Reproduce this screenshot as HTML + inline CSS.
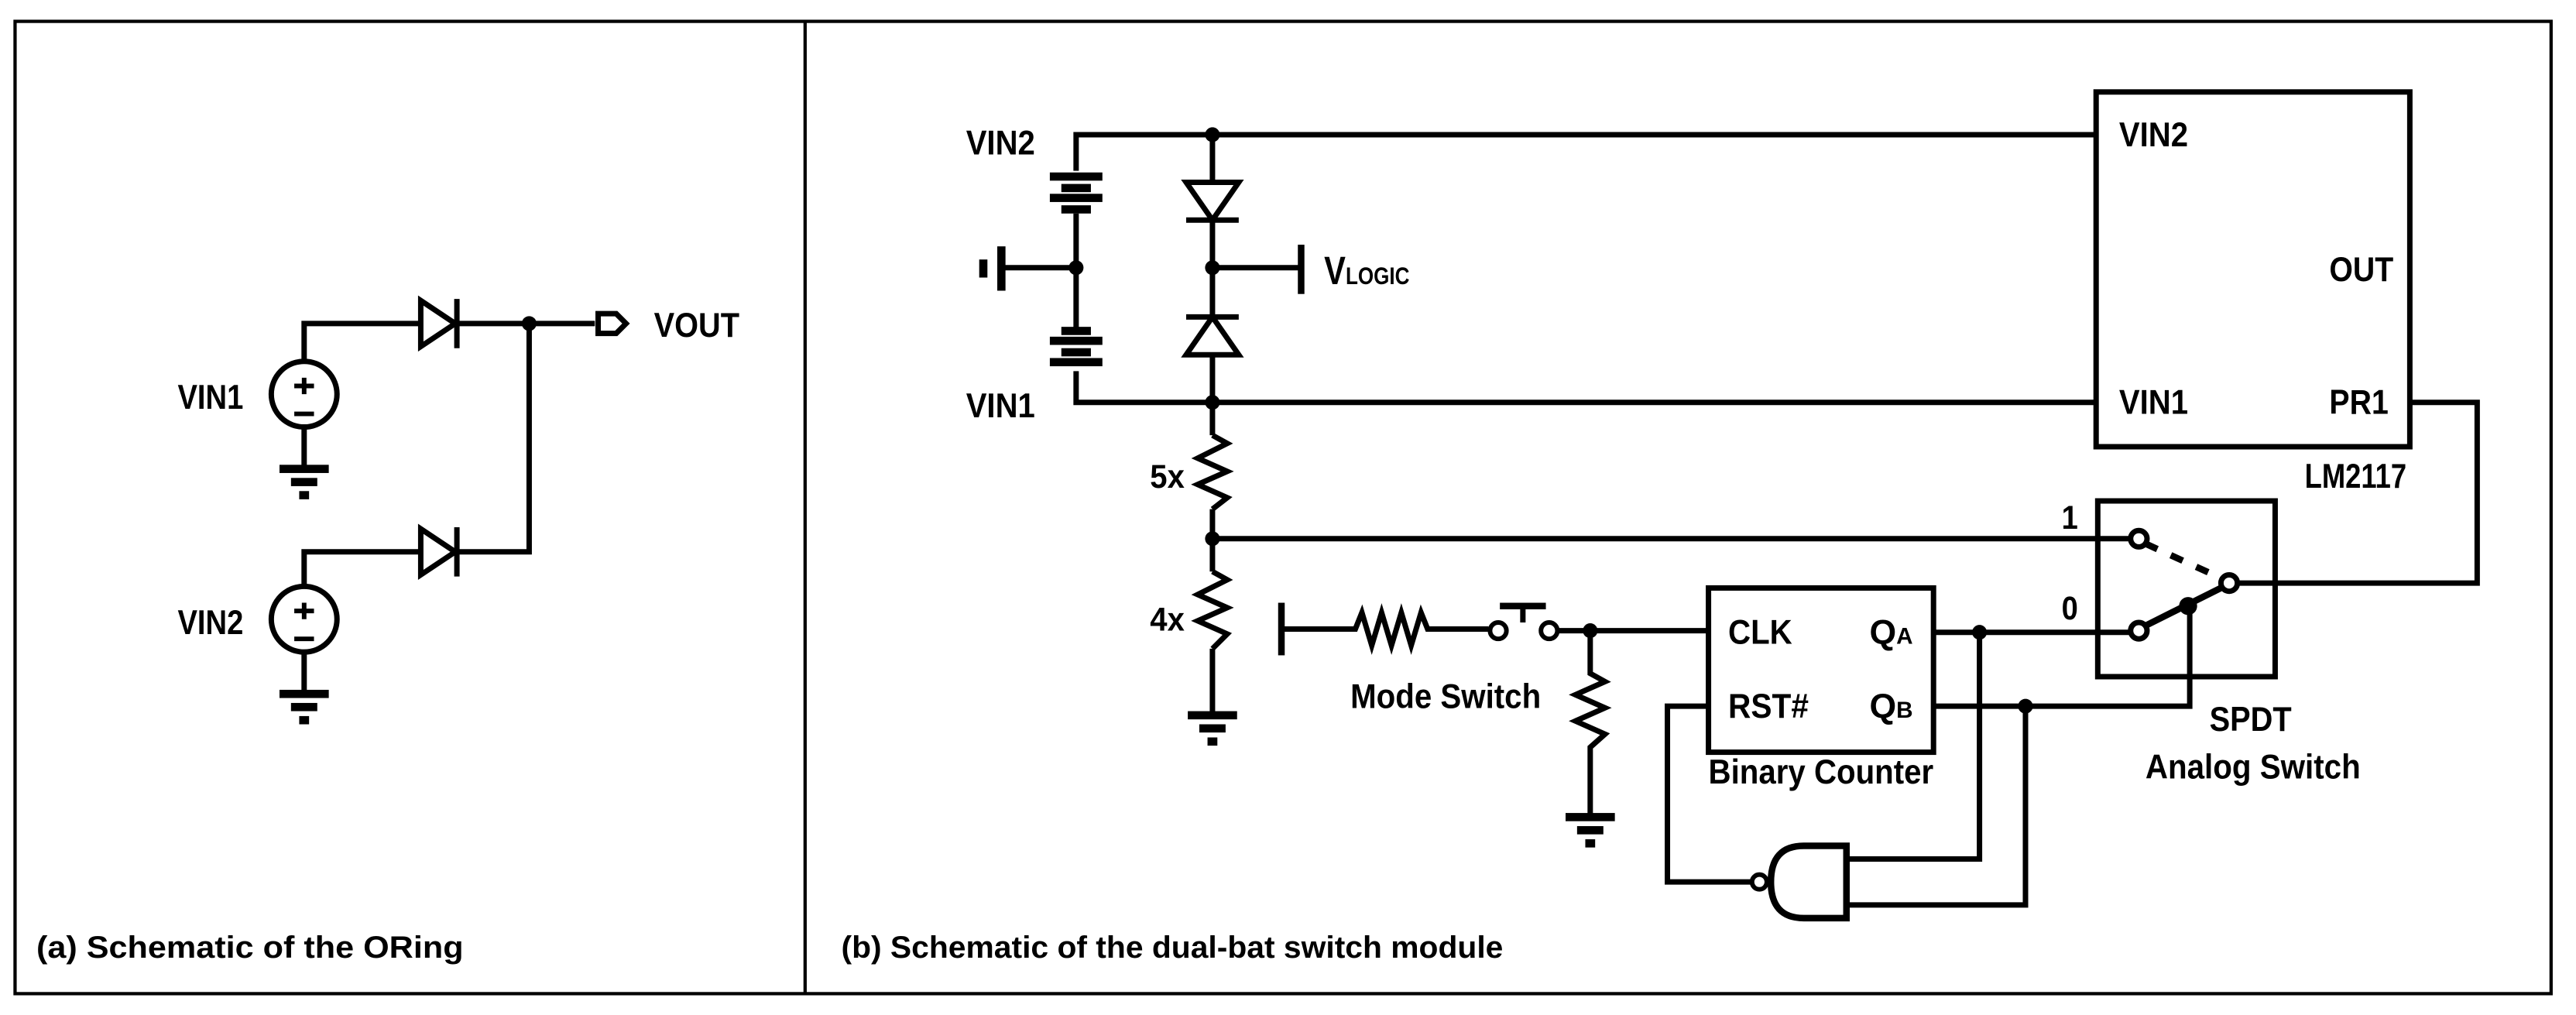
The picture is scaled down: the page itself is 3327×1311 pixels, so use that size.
<!DOCTYPE html>
<html><head><meta charset="utf-8"><style>
html,body{margin:0;padding:0;background:#fff;}
svg{display:block;}
text{font-family:"Liberation Sans Narrow","Liberation Sans",sans-serif;font-weight:bold;fill:#000;}
</style></head><body>
<svg width="3327" height="1311" viewBox="0 0 1568 618" xmlns="http://www.w3.org/2000/svg">
<g fill="none" stroke="#000" stroke-width="3.3" stroke-linejoin="miter">
<rect x="9" y="13" width="1544" height="592" stroke-width="2"/>
<line x1="490" y1="13" x2="490" y2="605" stroke-width="2"/>

<!-- Panel a -->
<circle cx="185" cy="240" r="20"/>
<circle cx="185" cy="377" r="20"/>
<path d="M185 220 V197 H256 M278 197 H362 M322 197 V336 H278 M256 336 H185 V357"/>
<path d="M185 260 V285 M185 397 V422"/>
<path d="M256 183 L277 197 L256 211 Z"/><line x1="278" y1="182" x2="278" y2="212"/>
<path d="M256 322 L277 336 L256 350 Z"/><line x1="278" y1="321" x2="278" y2="351"/>
<path d="M364 191 H375 L381 197 L375 203 H364 Z"/>
<path d="M185 230 V240 M179 235 H191 M179 252 H191" stroke-width="2.8"/>
<path d="M185 367 V377 M179 372 H191 M179 389 H191" stroke-width="2.8"/>
</g>
<g fill="#000">
<rect x="170" y="283" width="30" height="5"/><rect x="177" y="291" width="16" height="5"/><rect x="182" y="299" width="6" height="5"/>
<rect x="170" y="420" width="30" height="5"/><rect x="177" y="428" width="16" height="5"/><rect x="182" y="436" width="6" height="5"/>
<circle cx="322" cy="197" r="4.5"/>
</g>
<text x="108" y="249" font-size="21" textLength="40" lengthAdjust="spacingAndGlyphs">VIN1</text>
<text x="108" y="386" font-size="21" textLength="40" lengthAdjust="spacingAndGlyphs">VIN2</text>
<text x="398" y="205" font-size="21" textLength="52" lengthAdjust="spacingAndGlyphs">VOUT</text>
<text x="22" y="583" font-size="19" textLength="260" lengthAdjust="spacingAndGlyphs">(a) Schematic of the ORing</text>
<text x="512" y="583" font-size="19" textLength="403" lengthAdjust="spacingAndGlyphs">(b) Schematic of the dual-bat switch module</text>

<!-- Panel b -->
<g fill="none" stroke="#000" stroke-width="3.3">
<path d="M1275 82 H655 V104 M655 130 V200 M655 226 V245 H1275"/>
<path d="M655 163 H610"/>
<path d="M738 82 V111 M738 134 V193 M738 216 V265 M738 310 V348 M738 395 V435"/>
<path d="M722 111 H754 L738 134 Z"/><line x1="722" y1="134" x2="754" y2="134"/>
<path d="M722 216 H754 L738 193 Z"/><line x1="722" y1="193" x2="754" y2="193"/>
<path d="M738 163 H792"/>
<path d="M738 265 L747 270 L729 279 L747 287 L729 295 L747 303 L738 310"/>
<path d="M738 348 L747 353 L729 362 L747 370 L729 378 L747 386 L738 395"/>
<path d="M738 328 H1297"/>
<rect x="1276" y="56" width="191" height="216"/>
<path d="M1467 245 H1508 V355 H1362"/>
<path d="M780 383 H825 L829 373 L835 393 L841 373 L847 393 L853 373 L859 393 L865 373 L869 383 H906"/>
<circle cx="912" cy="384" r="5" stroke-width="2.8"/><circle cx="943" cy="384" r="5" stroke-width="2.8"/>
<path d="M927 370 V379"/>
<path d="M948 384 H1040 M968 384 V410 L977 415 L959 423 L977 431 L959 439 L977 447 L968 455 V497"/>
<rect x="1040" y="358" width="137" height="100"/>
<path d="M1177 385 H1297 M1177 430 H1233 M1205 385 V523 H1125 M1233 430 H1333 V370 M1233 430 V551 H1125"/>
<path d="M1040 430 H1015 V537 H1066"/>
<path d="M1124 515 H1098 Q1078 515 1078 537 Q1078 559 1098 559 H1124 Z" stroke-width="4"/>
<circle cx="1071" cy="537" r="4.5" stroke-width="2.8"/>
<rect x="1277" y="305" width="108" height="107"/>
<circle cx="1302" cy="328" r="5" fill="#fff"/><circle cx="1302" cy="384" r="5" fill="#fff"/><circle cx="1357" cy="355" r="5" fill="#fff"/>
<path d="M1306 331 L1352 352" stroke-dasharray="8 9" stroke-width="4"/>
<path d="M1306 381 L1352 358" stroke-width="4"/>
</g>
<g fill="#000">
<rect x="639" y="105" width="32" height="5"/><rect x="646" y="112" width="18" height="5"/><rect x="639" y="118" width="32" height="5"/><rect x="646" y="125" width="18" height="5"/>
<rect x="646" y="199" width="18" height="5"/><rect x="639" y="205" width="32" height="5"/><rect x="646" y="212" width="18" height="5"/><rect x="639" y="218" width="32" height="5"/>
<rect x="607" y="150" width="5" height="27"/><rect x="596" y="158" width="5" height="11"/>
<rect x="790" y="149" width="4" height="30"/>
<rect x="778" y="367" width="4" height="32"/>
<rect x="913" y="367" width="28" height="4"/>
<rect x="723" y="433" width="30" height="5"/><rect x="730" y="441" width="16" height="5"/><rect x="735" y="449" width="6" height="5"/>
<rect x="953" y="495" width="30" height="5"/><rect x="960" y="503" width="16" height="5"/><rect x="965" y="511" width="6" height="5"/>
<circle cx="738" cy="82" r="4.5"/><circle cx="655" cy="163" r="4.5"/><circle cx="738" cy="163" r="4.5"/>
<circle cx="738" cy="245" r="4.5"/><circle cx="738" cy="328" r="4.5"/><circle cx="968" cy="384" r="4.5"/>
<circle cx="1205" cy="385" r="4.5"/><circle cx="1233" cy="430" r="4.5"/><circle cx="1332" cy="369" r="5.5"/>
</g>
<text x="588" y="94" font-size="21" textLength="42" lengthAdjust="spacingAndGlyphs">VIN2</text>
<text x="588" y="254" font-size="21" textLength="42" lengthAdjust="spacingAndGlyphs">VIN1</text>
<text x="806" y="173" font-size="24" textLength="52" lengthAdjust="spacingAndGlyphs">V<tspan font-size="15">LOGIC</tspan></text>
<text x="700" y="297" font-size="20" textLength="21" lengthAdjust="spacingAndGlyphs">5x</text>
<text x="700" y="384" font-size="20" textLength="21" lengthAdjust="spacingAndGlyphs">4x</text>
<text x="1290" y="89" font-size="21" textLength="42" lengthAdjust="spacingAndGlyphs">VIN2</text>
<text x="1418" y="171" font-size="21" textLength="39" lengthAdjust="spacingAndGlyphs">OUT</text>
<text x="1290" y="252" font-size="21" textLength="42" lengthAdjust="spacingAndGlyphs">VIN1</text>
<text x="1418" y="252" font-size="21" textLength="36" lengthAdjust="spacingAndGlyphs">PR1</text>
<text x="1403" y="297" font-size="21" textLength="62" lengthAdjust="spacingAndGlyphs">LM2117</text>
<text x="1255" y="322" font-size="20" textLength="10" lengthAdjust="spacingAndGlyphs">1</text>
<text x="1255" y="377" font-size="20" textLength="10" lengthAdjust="spacingAndGlyphs">0</text>
<text x="1052" y="392" font-size="21" textLength="39" lengthAdjust="spacingAndGlyphs">CLK</text>
<text x="1052" y="437" font-size="21" textLength="49" lengthAdjust="spacingAndGlyphs">RST#</text>
<text x="1138" y="392" font-size="21">Q<tspan font-size="14">A</tspan></text>
<text x="1138" y="437" font-size="21">Q<tspan font-size="14">B</tspan></text>
<text x="1040" y="477" font-size="21" textLength="137" lengthAdjust="spacingAndGlyphs">Binary Counter</text>
<text x="822" y="431" font-size="21" textLength="116" lengthAdjust="spacingAndGlyphs">Mode Switch</text>
<text x="1345" y="445" font-size="21" textLength="50" lengthAdjust="spacingAndGlyphs">SPDT</text>
<text x="1306" y="474" font-size="21" textLength="131" lengthAdjust="spacingAndGlyphs">Analog Switch</text>
</svg>
</body></html>
